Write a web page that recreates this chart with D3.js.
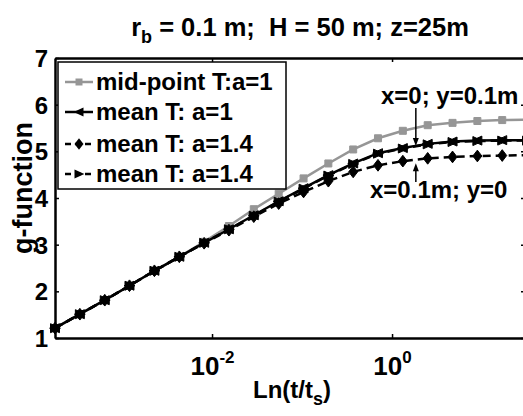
<!DOCTYPE html>
<html><head><meta charset="utf-8">
<script src="https://cdn.jsdelivr.net/npm/d3@7"></script>
<style>
body{margin:0;background:#fff}
svg{display:block}
text{font-family:"Liberation Sans",Arial,Helvetica,sans-serif;font-weight:bold;fill:#000;white-space:pre}
</style>
</head><body>
<svg id="c" width="523" height="416"></svg>
<script>
// ---- data ----
const tRatio = [1.8e-4, 3.4e-4, 6.43e-4, 1.21e-3, 2.29e-3, 4.33e-3, 8.17e-3, 0.0154, 0.0291, 0.055,
                0.104, 0.196, 0.37, 0.698, 1.318, 2.489, 4.70, 8.87, 16.75, 31.6];
const gMidA1   = [1.21, 1.51, 1.81, 2.12, 2.44, 2.74, 3.06, 3.40, 3.76, 4.09, 4.42, 4.74, 5.04, 5.28, 5.44, 5.56, 5.61, 5.65, 5.67, 5.68];
const gMeanA1  = [1.21, 1.51, 1.81, 2.12, 2.44, 2.74, 3.04, 3.33, 3.63, 3.93, 4.21, 4.49, 4.74, 4.96, 5.07, 5.16, 5.21, 5.23, 5.24, 5.24];
const gMeanA14 = [1.21, 1.51, 1.81, 2.12, 2.44, 2.74, 3.03, 3.31, 3.60, 3.88, 4.13, 4.36, 4.56, 4.70, 4.79, 4.85, 4.88, 4.90, 4.91, 4.92];
const gMeanA14b= [1.21, 1.51, 1.81, 2.12, 2.44, 2.74, 3.04, 3.33, 3.62, 3.92, 4.20, 4.48, 4.73, 4.95, 5.06, 5.15, 5.20, 5.22, 5.23, 5.23];
const seriesNames = ["mid-point T:a=1", "mean T: a=1", "mean T: a=1.4", "mean T: a=1.4"];
const yTicks = [1, 2, 3, 4, 5, 6, 7];
const xTicks = [1e-2, 1];
const xExponents = ["-2", "0"];
const annotations = ["x=0; y=0.1m", "x=0.1m; y=0"];

// ---- layout ----
const m = {left: 55, top: 58, right: 525, bottom: 338};
const svg = d3.select("#c");

const x = d3.scaleLog().domain([1.8e-4, 30]).range([m.left, m.right]);
const y = d3.scaleLinear().domain([1, 7]).range([m.bottom, m.top]);

const styles = [
  {color: "#969696", dash: null, marker: "square"},
  {color: "#000", dash: null, marker: "triLeft"},
  {color: "#000", dash: "8,5", marker: "diamond"},
  {color: "#000", dash: "8,5", marker: "triRight"}
];
const seriesData = [gMidA1, gMeanA1, gMeanA14, gMeanA14b];

function markerPath(type, s) {
  if (type === "square") return `M${-s/2},${-s/2}h${s}v${s}h${-s}Z`;
  if (type === "diamond") return `M0,${-s*0.65}L${s*0.5},0L0,${s*0.65}L${-s*0.5},0Z`;
  if (type === "triLeft") return `M${-s*0.6},0L${s*0.5},${-s*0.5}L${s*0.5},${s*0.5}Z`;
  if (type === "triRight") return `M${s*0.6},0L${-s*0.5},${-s*0.5}L${-s*0.5},${s*0.5}Z`;
}

// ---- series ----
const line = d3.line().x(d => x(d[0])).y(d => y(d[1]));
seriesData.forEach((vals, i) => {
  const st = styles[i];
  const pts = tRatio.map((t, j) => [t, vals[j]]);
  const g = svg.append("g");
  g.append("path").datum(pts).attr("d", line)
    .attr("fill", "none").attr("stroke", st.color).attr("stroke-width", 2.5)
    .attr("stroke-dasharray", st.dash);
  g.selectAll("path.mk").data(pts).join("path").attr("class", "mk")
    .attr("transform", d => `translate(${x(d[0])},${y(d[1])})`)
    .attr("d", markerPath(st.marker, st.marker === "square" ? 7 : 9))
    .attr("fill", st.color).attr("stroke", st.color).attr("stroke-width", 1);
});

// ---- axes ----
const axStroke = 2.5;
const yAxisL = d3.axisLeft(y).tickValues(yTicks).tickFormat(d3.format("d"))
  .tickSizeInner(-4).tickSizeOuter(0).tickPadding(7);
const gyL = svg.append("g").attr("transform", `translate(${m.left},0)`).call(yAxisL);
const yAxisR = d3.axisRight(y).tickValues(yTicks).tickFormat("").tickSizeInner(-4).tickSizeOuter(0);
const gyR = svg.append("g").attr("transform", `translate(${m.right},0)`).call(yAxisR);

const xAxisB = d3.axisBottom(x).tickValues(xTicks).tickFormat("").tickSizeInner(-4).tickSizeOuter(0);
const gxB = svg.append("g").attr("transform", `translate(0,${m.bottom})`).call(xAxisB);
const xAxisT = d3.axisTop(x).tickValues(xTicks).tickFormat("").tickSizeInner(-4).tickSizeOuter(0);
const gxT = svg.append("g").attr("transform", `translate(0,${m.top})`).call(xAxisT);

[gyL, gyR, gxB, gxT].forEach(g => {
  g.select(".domain").attr("stroke", "#000").attr("stroke-width", axStroke);
  g.selectAll(".tick line").attr("stroke", "#000").attr("stroke-width", 1.5);
});
gyL.selectAll(".tick text").attr("font-size", 24).attr("font-family", null).attr("dy", "0.36em");

// x tick labels with exponents
gxB.selectAll(".tick").each(function(d, i) {
  const t = d3.select(this).append("text").attr("y", 37).attr("text-anchor", "middle")
    .attr("font-size", 26).attr("fill", "#000");
  t.append("tspan").text("10");
  t.append("tspan").attr("font-size", 17).attr("dy", -12).text(xExponents[i]);
});

// ---- labels ----
const title = svg.append("text").attr("x", 300).attr("y", 36).attr("text-anchor", "middle").attr("font-size", 25.5);
title.append("tspan").text("r");
title.append("tspan").attr("font-size", 18).attr("dy", 7).text("b");
title.append("tspan").attr("dy", -7).text(" = 0.1 m;  H = 50 m; z=25m");

const xl = svg.append("text").attr("x", 292).attr("y", 398).attr("text-anchor", "middle").attr("font-size", 24);
xl.append("tspan").text("Ln(t/t");
xl.append("tspan").attr("font-size", 18).attr("dy", 7).text("s");
xl.append("tspan").attr("dy", -7).text(")");

svg.append("text").attr("transform", `translate(32,${(m.top + m.bottom) / 2 - 10}) rotate(-90)`)
  .attr("text-anchor", "middle").attr("font-size", 27).text("g-function");

// ---- annotations ----
function arrow(x0, y0, y1) {
  const dir = Math.sign(y1 - y0);
  svg.append("line").attr("x1", x0).attr("x2", x0).attr("y1", y0).attr("y2", y1 - dir * 6)
    .attr("stroke", "#000").attr("stroke-width", 1.5);
  svg.append("path").attr("d", `M${x0},${y1}L${x0 - 3},${y1 - dir * 8}L${x0 + 3},${y1 - dir * 8}Z`).attr("fill", "#000");
}
arrow(x(1.318) + 13, 108, y(5.07) - 2);
arrow(x(1.318) + 13, 182, y(4.79) + 2);
svg.append("text").attr("x", 381).attr("y", 104).attr("font-size", 24).text(annotations[0]);
svg.append("text").attr("x", 370).attr("y", 198).attr("font-size", 24).text(annotations[1]);

// ---- legend ----
const lg = svg.append("g");
lg.append("rect").attr("x", 58).attr("y", 62).attr("width", 228).attr("height", 127)
  .attr("fill", "#fff").attr("stroke", "#000").attr("stroke-width", 1.5);
const rowY = [82, 112, 144, 174];
seriesNames.forEach((name, i) => {
  const st = styles[i];
  lg.append("line").attr("x1", 65).attr("x2", 93).attr("y1", rowY[i]).attr("y2", rowY[i])
    .attr("stroke", st.color).attr("stroke-width", 2.5).attr("stroke-dasharray", st.dash ? "6,4" : null);
  lg.append("path").attr("transform", `translate(79,${rowY[i]})`)
    .attr("d", markerPath(st.marker, st.marker === "square" ? 7 : 9)).attr("fill", st.color);
  lg.append("text").attr("x", 96).attr("y", rowY[i] + 8).attr("font-size", 24).text(name);
});
</script>
</body></html>
